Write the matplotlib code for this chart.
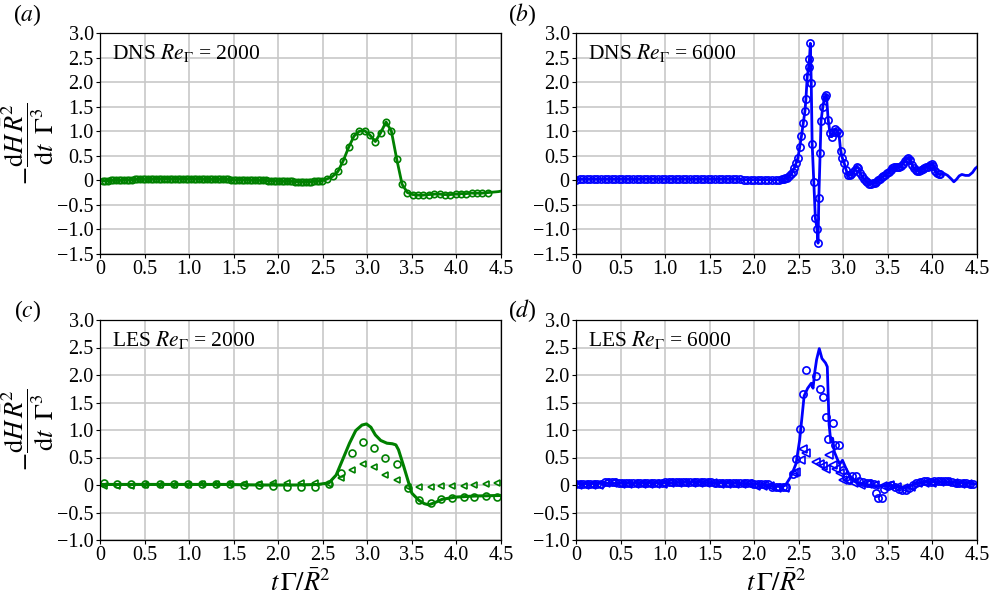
import numpy as np
import matplotlib
matplotlib.use("Agg")
import matplotlib.pyplot as plt

plt.rcParams['font.family'] = 'serif'
plt.rcParams['font.serif'] = ['Liberation Serif', 'DejaVu Serif']
plt.rcParams['mathtext.fontset'] = 'stix'

GREEN = '#008000'
BLUE = '#0000ff'

# (a) DNS Re=2000, line and circles share the same samples
dns2000_t = [0.03, 0.06, 0.09, 0.12, 0.15, 0.18, 0.21, 0.24, 0.27, 0.30,
             0.33, 0.36, 0.39, 0.42, 0.45, 0.48, 0.51, 0.54, 0.57, 0.60,
             0.63, 0.66, 0.69, 0.72, 0.75, 0.78, 0.81, 0.84, 0.87, 0.90,
             0.93, 0.96, 0.99, 1.02, 1.05, 1.08, 1.11, 1.14, 1.17, 1.20,
             1.23, 1.26, 1.29, 1.32, 1.35, 1.38, 1.41, 1.44, 1.47, 1.50,
             1.53, 1.56, 1.59, 1.62, 1.65, 1.68, 1.71, 1.74, 1.77, 1.80,
             1.83, 1.86, 1.89, 1.92, 1.95, 1.98, 2.01, 2.04, 2.07, 2.10,
             2.13, 2.16, 2.19, 2.22, 2.25, 2.28, 2.31, 2.34, 2.37, 2.40,
             2.43, 2.46, 2.49,
             2.55, 2.61, 2.67, 2.73, 2.79, 2.85, 2.91, 2.97, 3.03, 3.09, 3.15, 3.21,
             3.27, 3.33, 3.39, 3.45, 3.51, 3.57, 3.63, 3.69, 3.75, 3.81, 3.87, 3.93,
             3.99, 4.05, 4.11, 4.17, 4.23, 4.29, 4.35, 4.41, 4.47, 4.50]
dns2000_y = [-0.01, -0.01, -0.01, 0.0, 0.0, 0.0, 0.0, 0.0, 0.01, 0.01,
             0.01, 0.01, 0.02, 0.02, 0.02, 0.02, 0.02, 0.02, 0.02, 0.03,
             0.03, 0.03, 0.03, 0.03, 0.03, 0.03, 0.03, 0.03, 0.03, 0.03,
             0.03, 0.03, 0.03, 0.03, 0.03, 0.03, 0.03, 0.03, 0.02, 0.02,
             0.02, 0.02, 0.02, 0.02, 0.02, 0.02, 0.02, 0.02, 0.01, 0.01,
             0.01, 0.01, 0.01, 0.01, 0.01, 0.01, 0.0, 0.0, 0.0, 0.0,
             0.0, 0.0, -0.01, -0.01, -0.01, -0.01, -0.02, -0.02, -0.02, -0.02,
             -0.02, -0.02, -0.03, -0.03, -0.03, -0.03, -0.03, -0.03, -0.03, -0.02,
             -0.02, -0.01, -0.01,
             0.03, 0.08, 0.18, 0.40, 0.67, 0.90, 1.00, 1.01, 0.92, 0.79, 0.97, 1.19,
             1.00, 0.43, -0.08, -0.25, -0.29, -0.30, -0.30, -0.29, -0.28, -0.28, -0.29, -0.29,
             -0.28, -0.27, -0.27, -0.26, -0.26, -0.26, -0.25, -0.24, -0.23, -0.22]

# (b) DNS Re=6000
dns6000_t = [0.00, 0.04, 0.08, 0.12, 0.16, 0.20, 0.24, 0.28, 0.32, 0.36, 0.40, 0.44,
             0.48, 0.52, 0.56, 0.60, 0.64, 0.68, 0.72, 0.76, 0.80, 0.84, 0.88, 0.92,
             0.96, 1.00, 1.04, 1.08, 1.12, 1.16, 1.20, 1.24, 1.28, 1.32, 1.36, 1.40,
             1.44, 1.48, 1.52, 1.56, 1.60, 1.64, 1.68, 1.72, 1.76, 1.80, 1.84, 1.88,
             1.92, 1.96, 2.00, 2.04, 2.08, 2.12, 2.16, 2.20, 2.24, 2.28,
             2.31, 2.33, 2.35, 2.37, 2.39, 2.41, 2.43, 2.45, 2.47, 2.49, 2.51, 2.53,
             2.55, 2.57, 2.58, 2.595, 2.61, 2.62, 2.63, 2.64, 2.65, 2.668, 2.686, 2.705,
             2.716, 2.725, 2.74, 2.75, 2.77, 2.79, 2.81, 2.83, 2.85, 2.87, 2.89, 2.91,
             2.93, 2.95, 2.97, 2.99, 3.01, 3.03, 3.05, 3.07, 3.09, 3.11, 3.13, 3.15,
             3.17, 3.19, 3.21, 3.23, 3.25, 3.27, 3.29, 3.31, 3.33, 3.35, 3.37, 3.39,
             3.41, 3.43, 3.45, 3.47, 3.49, 3.51, 3.53, 3.55, 3.57, 3.59, 3.61, 3.63,
             3.65, 3.67, 3.69, 3.71, 3.73, 3.75, 3.77, 3.79, 3.81, 3.83, 3.85, 3.87,
             3.89, 3.91, 3.93, 3.95, 3.97, 3.99, 4.01, 4.03, 4.05, 4.07, 4.09,
             4.13, 4.17, 4.21, 4.24, 4.27, 4.30, 4.33, 4.37, 4.41, 4.45, 4.48, 4.50]
dns6000_y = [0.01, 0.02, 0.02, 0.02, 0.02, 0.02, 0.02, 0.02, 0.02, 0.02, 0.02, 0.02,
             0.02, 0.02, 0.02, 0.02, 0.02, 0.02, 0.02, 0.02, 0.02, 0.02, 0.02, 0.02,
             0.02, 0.02, 0.02, 0.02, 0.02, 0.02, 0.02, 0.02, 0.02, 0.02, 0.02, 0.02,
             0.02, 0.02, 0.02, 0.02, 0.02, 0.02, 0.02, 0.02, 0.02, 0.02, 0.02, 0.01,
             0.01, 0.01, 0.01, 0.01, 0.01, 0.01, 0.01, 0.01, 0.01, 0.01,
             0.02, 0.03, 0.04, 0.05, 0.08, 0.12, 0.17, 0.25, 0.35, 0.45, 0.67, 0.90,
             1.16, 1.42, 1.65, 2.11, 2.30, 2.48, 2.79, 1.98, 0.75, -0.03, -0.77, -0.99,
             -1.28, -0.36, 0.56, 1.21, 1.50, 1.70, 1.74, 1.23, 0.97, 0.89, 0.98, 1.05,
             1.00, 0.96, 0.60, 0.45, 0.35, 0.22, 0.11, 0.10, 0.12, 0.16, 0.22, 0.27,
             0.26, 0.15, 0.08, 0.03, -0.01, -0.04, -0.07, -0.07, -0.06, -0.05, -0.03, 0.0,
             0.03, 0.06, 0.08, 0.10, 0.14, 0.16, 0.21, 0.25, 0.27, 0.27, 0.27, 0.28,
             0.30, 0.34, 0.40, 0.44, 0.46, 0.42, 0.32, 0.25, 0.21, 0.19, 0.20, 0.22,
             0.24, 0.26, 0.27, 0.28, 0.31, 0.34, 0.30, 0.20, 0.14, 0.12, 0.12,
             0.14, 0.10, 0.03, -0.03, 0.02, 0.09, 0.12, 0.10, 0.10, 0.16, 0.24, 0.27]

# (c) LES Re=2000
les2000_line_t = [0.0, 0.3, 0.6, 1.0, 1.4, 1.8, 2.2, 2.45, 2.57, 2.65, 2.72, 2.8,
                  2.87, 2.94, 2.99, 3.04, 3.09, 3.15, 3.22, 3.28, 3.32, 3.35, 3.41, 3.46,
                  3.5, 3.58, 3.64, 3.69, 3.76, 3.84, 3.99, 4.21, 4.5]
les2000_line_y = [0.01, 0.01, 0.01, 0.01, 0.01, 0.0, 0.0, 0.01, 0.04, 0.18, 0.45, 0.76,
                  0.99, 1.09, 1.11, 1.05, 0.91, 0.81, 0.76, 0.75, 0.73, 0.64, 0.33, 0.06,
                  -0.15, -0.28, -0.34, -0.36, -0.32, -0.26, -0.22, -0.20, -0.19]
les2000_mk_t = [0.05, 0.19, 0.35, 0.51, 0.67, 0.83, 0.99, 1.14, 1.30, 1.46, 1.62, 1.78,
                1.94, 2.10, 2.26, 2.41, 2.57, 2.70, 2.83, 2.95, 3.08, 3.20, 3.33, 3.46,
                3.58, 3.71, 3.83, 3.95, 4.08, 4.20, 4.33, 4.45]
les2000_circ_y = [0.03, 0.02, 0.02, 0.02, 0.02, 0.02, 0.02, 0.02, 0.01, 0.01, 0.0, 0.0,
                  -0.02, -0.03, -0.04, -0.04, 0.01, 0.21, 0.58, 0.79, 0.67, 0.49, 0.39, -0.06,
                  -0.28, -0.32, -0.25, -0.23, -0.22, -0.21, -0.20, -0.21]
les2000_tri_y = [-0.02, -0.01, -0.01, 0.0, 0.0, 0.0, 0.0, 0.01, 0.01, 0.01, 0.02, 0.02,
                 0.03, 0.03, 0.03, 0.04, 0.02, 0.12, 0.27, 0.38, 0.32, 0.18, 0.10, -0.04,
                 -0.04, -0.04, -0.02, -0.01, -0.01, 0.0, 0.02, 0.03]

# (d) LES Re=6000
les6000_line_t = [0.0, 0.3, 0.6, 1.0, 1.3, 1.6, 2.0, 2.2, 2.3, 2.36, 2.41, 2.47,
                  2.51, 2.54, 2.56, 2.6, 2.64, 2.66, 2.68, 2.7, 2.73, 2.76, 2.8, 2.82,
                  2.84, 2.86, 2.88, 2.9, 2.93, 2.96, 2.99, 3.03, 3.08, 3.13, 3.2, 3.3,
                  3.4, 3.5, 3.6, 3.7, 3.8, 3.9, 4.1, 4.3, 4.5]
les6000_line_y = [0.02, 0.03, 0.03, 0.04, 0.05, 0.04, 0.02, -0.02, -0.03, 0.02, 0.15, 0.39,
                  0.82, 1.30, 1.62, 1.76, 1.85, 1.76, 2.06, 2.28, 2.48, 2.30, 2.22, 2.15,
                  1.10, 0.78, 0.85, 0.60, 0.48, 0.38, 0.45, 0.30, 0.15, 0.06, 0.02, 0.0,
                  -0.02, 0.0, -0.03, -0.05, 0.02, 0.05, 0.06, 0.04, 0.02]
les6000_circ_t = [0.00, 0.04, 0.08, 0.12, 0.16, 0.20, 0.24, 0.28, 0.32, 0.36, 0.40, 0.44,
                  0.48, 0.52, 0.56, 0.60, 0.64, 0.68, 0.72, 0.76, 0.80, 0.84, 0.88, 0.92,
                  0.96, 1.00, 1.04, 1.08, 1.12, 1.16, 1.20, 1.24, 1.28, 1.32, 1.36, 1.40,
                  1.44, 1.48, 1.52, 1.56, 1.60, 1.64, 1.68, 1.72, 1.76, 1.80, 1.84, 1.88,
                  1.92, 1.96, 2.00, 2.04, 2.08, 2.12, 2.16, 2.20, 2.24, 2.28, 2.32, 2.36,
                  2.43, 2.47, 2.51, 2.55, 2.58, 2.69, 2.74, 2.77, 2.80, 2.83, 2.88, 2.91,
                  2.95, 3.00, 3.03,
                  3.06, 3.10, 3.14, 3.18, 3.22, 3.26, 3.30, 3.34, 3.37, 3.39, 3.43, 3.46,
                  3.50, 3.54, 3.58, 3.62, 3.66, 3.70, 3.74, 3.78, 3.82, 3.86, 3.90, 3.94,
                  3.98, 4.02, 4.06, 4.10, 4.14, 4.18, 4.22, 4.26, 4.30, 4.34, 4.38, 4.42,
                  4.46]
les6000_circ_y = [0.02, 0.02, 0.02, 0.02, 0.02, 0.02, 0.02, 0.02, 0.05, 0.05, 0.05, 0.05,
                  0.03, 0.03, 0.03, 0.03, 0.03, 0.03, 0.03, 0.03, 0.03, 0.03, 0.03, 0.03,
                  0.03, 0.05, 0.05, 0.05, 0.05, 0.05, 0.05, 0.05, 0.05, 0.05, 0.05, 0.05,
                  0.05, 0.05, 0.05, 0.03, 0.03, 0.03, 0.03, 0.03, 0.03, 0.03, 0.03, 0.03,
                  0.03, 0.03, 0.01, 0.01, 0.01, 0.01, 0.01, -0.04, -0.04, -0.04, -0.04, -0.04,
                  0.20, 0.47, 1.02, 1.65, 2.10, 1.98, 1.74, 1.60, 1.24, 0.83, 1.13, 0.72,
                  0.73, 0.27, 0.15,
                  0.10, 0.16, 0.17, 0.08, 0.06, 0.03, 0.03, 0.02, -0.14, -0.24, -0.24, -0.08,
                  -0.02, 0.0, -0.03, -0.07, -0.09, -0.09, -0.06, 0.0, 0.04, 0.06, 0.07, 0.07,
                  0.06, 0.07, 0.07, 0.07, 0.08, 0.08, 0.06, 0.04, 0.04, 0.04, 0.03, 0.01,
                  0.01]
les6000_tri_t = [0.02, 0.10, 0.18, 0.26, 0.34, 0.42, 0.50, 0.58, 0.66, 0.74, 0.82, 0.90,
                 0.98, 1.06, 1.14, 1.22, 1.30, 1.38, 1.46, 1.54, 1.62, 1.70, 1.78, 1.86,
                 1.94, 2.02, 2.10, 2.18, 2.26, 2.34,
                 2.45, 2.47, 2.53, 2.55, 2.58, 2.69, 2.74, 2.77, 2.81, 2.84, 2.88, 2.92,
                 2.96, 3.00,
                 3.04, 3.12, 3.20, 3.28, 3.36, 3.44, 3.52, 3.60, 3.68, 3.76, 3.84, 3.92,
                 4.00, 4.08, 4.16, 4.24, 4.32, 4.40]
les6000_tri_y = [0.0, 0.0, 0.0, 0.0, 0.03, 0.03, 0.01, 0.01, 0.01, 0.01, 0.01, 0.01,
                 0.01, 0.03, 0.03, 0.03, 0.03, 0.03, 0.03, 0.03, 0.01, 0.01, 0.01, 0.01,
                 0.01, -0.01, -0.01, -0.01, -0.05, -0.05,
                 0.21, 0.24, 0.45, 0.65, 0.58, 0.41, 0.38, 0.35, 0.30, 0.55, 0.36, 0.30,
                 0.21, 0.09,
                 0.10, 0.03, 0.0, 0.02, 0.0, -0.02, 0.0, -0.04, -0.06, -0.03, 0.03, 0.04,
                 0.04, 0.05, 0.05, 0.03, 0.02, 0.02]

x_ticks = [0, 0.5, 1.0, 1.5, 2.0, 2.5, 3.0, 3.5, 4.0, 4.5]
x_labels = ['0', '0.5', '1.0', '1.5', '2.0', '2.5', '3.0', '3.5', '4.0', '4.5']
y_ticks_top = [3.0, 2.5, 2.0, 1.5, 1.0, 0.5, 0, -0.5, -1.0, -1.5]
y_labels_top = ['3.0', '2.5', '2.0', '1.5', '1.0', '0.5', '0', '\u22120.5', '\u22121.0', '\u22121.5']
y_ticks_bot = y_ticks_top[:-1]
y_labels_bot = y_labels_top[:-1]

W, H = 993, 598
fig = plt.figure(figsize=(W / 100, H / 100), dpi=100)


def make_ax(left, top, bottom, yticks, ylabels):
    ax = fig.add_axes([left / W, 1 - bottom / H, 401 / W, (bottom - top) / H])
    ax.set_xlim(0, 4.5)
    ax.set_ylim(yticks[-1], yticks[0])
    ax.set_xticks(x_ticks)
    ax.set_xticklabels(x_labels)
    ax.set_yticks(yticks)
    ax.set_yticklabels(ylabels)
    ax.grid(True, color='#c8c8c8', lw=1.2)
    ax.set_axisbelow(True)
    ax.tick_params(direction='out', length=3, width=0.8, labelsize=14.5, pad=1.5)
    for s in ax.spines.values():
        s.set_linewidth(0.9)
    return ax


ax_a = make_ax(100, 33, 254, y_ticks_top, y_labels_top)
ax_b = make_ax(576, 33, 254, y_ticks_top, y_labels_top)
ax_c = make_ax(100, 320, 540, y_ticks_bot, y_labels_bot)
ax_d = make_ax(576, 320, 540, y_ticks_bot, y_labels_bot)

mk = dict(mfc='none', mew=1.2)

# (a)
t = np.array(dns2000_t)
n_mark = int(np.sum(t <= 4.36))
ax_a.plot(t, dns2000_y, '-', color=GREEN, lw=2)
ax_a.plot(t[:n_mark], dns2000_y[:n_mark], 'o', color=GREEN, ms=4.6, **mk)

# (b)
t = np.array(dns6000_t)
n_mark = int(np.sum(t <= 4.1))
ax_b.plot(t, dns6000_y, '-', color=BLUE, lw=2)
ax_b.plot(t[:n_mark], dns6000_y[:n_mark], 'o', color=BLUE, ms=5.2, **mk)

# (c)
ax_c.plot(les2000_line_t, les2000_line_y, '-', color=GREEN, lw=2.2)
ax_c.plot(les2000_mk_t, les2000_circ_y, 'o', color=GREEN, ms=5, **mk)
ax_c.plot(les2000_mk_t, les2000_tri_y, '<', color=GREEN, ms=5, **mk)

# (d)
ax_d.plot(les6000_line_t, les6000_line_y, '-', color=BLUE, lw=2)
ax_d.plot(les6000_circ_t, les6000_circ_y, 'o', color=BLUE, ms=5.2, **mk)
ax_d.plot(les6000_tri_t, les6000_tri_y, '<', color=BLUE, ms=5.2, **mk)

tags = [(ax_a, r'DNS $Re_{\Gamma}$ = 2000'), (ax_b, r'DNS $Re_{\Gamma}$ = 6000'),
        (ax_c, r'LES $Re_{\Gamma}$ = 2000'), (ax_d, r'LES $Re_{\Gamma}$ = 6000')]
for ax, txt in tags:
    ax.text(0.03, 0.882, txt, transform=ax.transAxes, fontsize=15.5, ha='left', va='baseline')

ylab = r'$-\dfrac{\mathrm{d}H\,\bar{R}^2}{\mathrm{d}t\;\;\Gamma^3}$'
for ax in (ax_a, ax_c):
    ax.set_ylabel(ylab, fontsize=19)
    ax.yaxis.set_label_coords(-0.11, 0.5)
for ax in (ax_c, ax_d):
    ax.set_xlabel(r'$t\,\Gamma/\bar{R}^2$', fontsize=19, labelpad=3)

for lab, (px, py) in zip(['a', 'b', 'c', 'd'], [(27, 15), (522, 15), (28, 311), (522, 311)]):
    fig.text(px / W, 1 - py / H, '($%s$)' % lab, fontsize=17, ha='center', va='center')

fig.savefig('out.png', dpi=100)
